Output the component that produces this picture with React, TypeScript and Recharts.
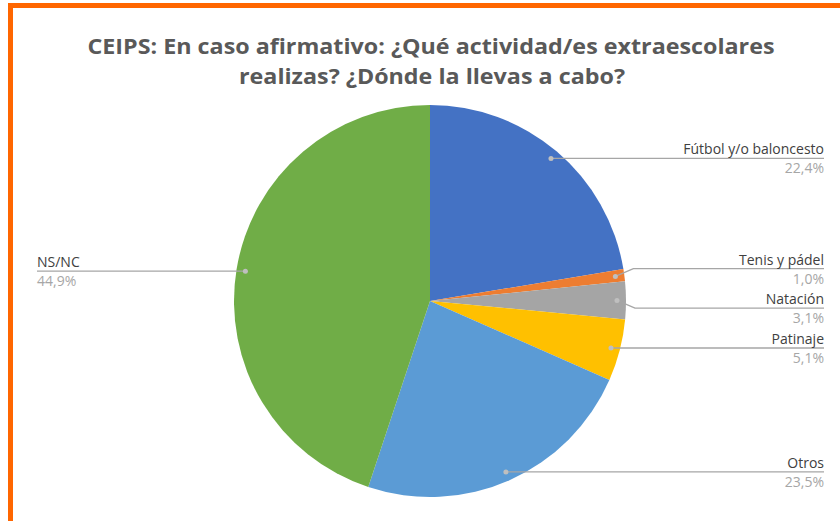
import React from "react";
import { PieChart, Pie, Cell } from "recharts";

const categories = ["Fútbol y/o baloncesto", "Tenis y pádel", "Natación", "Patinaje", "Otros", "NS/NC"];
const shares = [22.4, 1.0, 3.1, 5.1, 23.5, 44.9];
const colors = ["#4472C4", "#ED7D31", "#A5A5A5", "#FFC000", "#5B9BD5", "#70AD47"];
const titleLines = ["CEIPS: En caso afirmativo: ¿Qué actividad/es extraescolares", "realizas? ¿Dónde la llevas a cabo?"];

const data = categories.map((name, i) => ({ name, value: shares[i] }));

const CX = 430;
const CY = 301;
const R = 196;
const DOT_R = 187;
const MIN_GAP = 39.5;
const RAD = Math.PI / 180;

const fmt = (v: number) => v.toFixed(1).replace(".", ",") + "%";

// spread label lines so they do not overlap
const labelYs = (() => {
  const total = shares.reduce((a, b) => a + b, 0);
  let acc = 0;
  const items = shares.map((v, i) => {
    const start = 90 - (360 * acc) / total;
    acc += v;
    const end = 90 - (360 * acc) / total;
    const mid = (start + end) / 2;
    return { i, right: Math.cos(-mid * RAD) >= 0, y: CY + DOT_R * Math.sin(-mid * RAD) };
  });
  const ys = items.map((d) => d.y);
  [true, false].forEach((side) => {
    const group = items.filter((d) => d.right === side).sort((a, b) => a.y - b.y);
    for (let it = 0; it < 50; it++) {
      for (let k = 1; k < group.length; k++) {
        const a = group[k - 1].i;
        const b = group[k].i;
        const gap = ys[b] - ys[a];
        if (gap < MIN_GAP) {
          const s = (MIN_GAP - gap) / 2;
          ys[a] -= s;
          ys[b] += s;
        }
      }
    }
  });
  return ys;
})();

const renderLabel = (props: any) => {
  const { cx, cy, midAngle, index, name, value } = props;
  const dx = cx + DOT_R * Math.cos(-midAngle * RAD);
  const dy = cy + DOT_R * Math.sin(-midAngle * RAD);
  const right = dx >= cx;
  const ly = labelYs[index];
  const endX = right ? 824 : 37;
  const elbowX = right ? dx + 18 : dx - 18;
  const anchor = right ? "end" : "start";
  return (
    <g key={`lbl-${index}`}>
      <polyline
        points={`${dx},${dy} ${Math.abs(ly - dy) > 1 ? `${elbowX},${ly} ` : ""}${endX},${ly}`}
        fill="none"
        stroke="#a6a6a6"
        strokeWidth={1.4}
      />
      <circle cx={dx} cy={dy} r={2.5} fill="#bfbfbf" />
      <text x={endX} y={ly - 4} textAnchor={anchor} fontSize={14} fill="#404040" fontFamily="Open Sans">
        {name}
      </text>
      <text x={endX} y={ly + 15} textAnchor={anchor} fontSize={14} fill="#a6a6a6" fontFamily="Open Sans">
        {fmt(value)}
      </text>
    </g>
  );
};

export default function App() {
  return (
    <div style={{ position: "absolute", left: 0, top: 0, width: 840, height: 521, overflow: "hidden", background: "#fff" }}>
      <div
        style={{
          position: "absolute",
          left: 8,
          top: 3,
          width: 900,
          height: 600,
          border: "5px solid #FF6600",
          boxSizing: "border-box",
        }}
      />
      <div style={{ position: "absolute", left: 0, top: 0 }}>
        <PieChart width={840} height={521} margin={{ top: 0, right: 0, bottom: 0, left: 0 }}>
          <Pie
            data={data}
            dataKey="value"
            nameKey="name"
            cx={CX}
            cy={CY}
            outerRadius={R}
            startAngle={90}
            endAngle={-270}
            stroke="none"
            label={renderLabel}
            labelLine={false}
            isAnimationActive={false}
          >
            {data.map((d, i) => (
              <Cell key={d.name} fill={colors[i]} />
            ))}
          </Pie>
        </PieChart>
      </div>
      <svg width={840} height={521} style={{ position: "absolute", left: 0, top: 0, pointerEvents: "none" }}>
        <text
          x={431}
          y={54}
          textAnchor="middle"
          fontFamily="Open Sans"
          fontWeight="bold"
          fontSize={22}
          fill="#595959"
          textLength={687}
          lengthAdjust="spacingAndGlyphs"
        >
          {titleLines[0]}
        </text>
        <text
          x={432}
          y={84}
          textAnchor="middle"
          fontFamily="Open Sans"
          fontWeight="bold"
          fontSize={22}
          fill="#595959"
          textLength={386}
          lengthAdjust="spacingAndGlyphs"
        >
          {titleLines[1]}
        </text>
      </svg>
    </div>
  );
}
